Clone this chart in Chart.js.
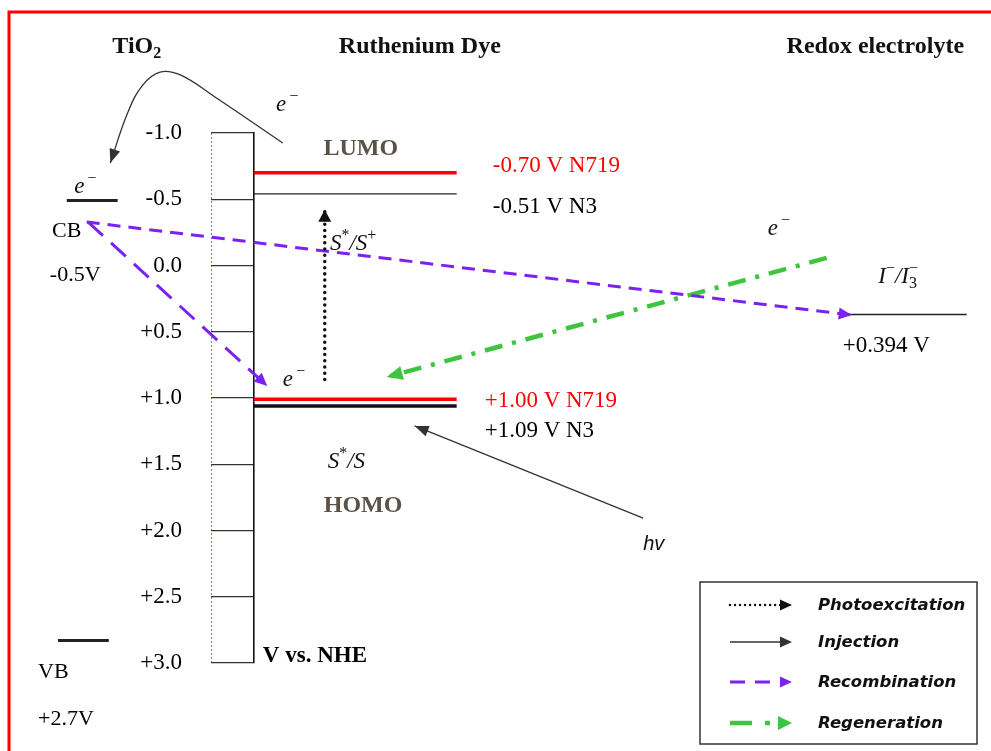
<!DOCTYPE html>
<html>
<head>
<meta charset="utf-8">
<script src="https://cdn.jsdelivr.net/npm/chart.js@4.4.1/dist/chart.umd.min.js"></script>
<style>
  body { margin: 0; background: #fff; }
</style>
</head>
<body>
<canvas id="levelChart" width="991" height="751"></canvas>
<script>
// energy levels in V vs. NHE
const dyeNames = ['N719', 'N3'];
const lumoLevels = [-0.70, -0.54];
const homoLevels = [1.01, 1.06];
const lumoText = ['-0.70 V', '-0.51 V'];
const homoText = ['+1.00 V', '+1.09 V'];
const tio2Levels = [-0.49, 2.83]; // CB, VB
const tio2Text = ['-0.5V', '+2.7V'];
const redoxLevel = 0.37;
const redoxText = '+0.394 V';
const yTicks = [-1.0, -0.5, 0.0, 0.5, 1.0, 1.5, 2.0, 2.5, 3.0];
const processNames = ['Photoexcitation', 'Injection', 'Recombination', 'Regeneration'];

// horizontal positions of the three columns (0 = energy axis, 100 = right edge)
const dyeCol = [0, 27.5];
const cbCol = [-25.4, -18.5];
const vbCol = [-26.6, -19.7];
const redoxCol = [80.9, 96.7];

// arrow paths [x, V]
const photoPath = [[9.6, 0.86], [9.6, -0.42]];
const injectPath = [[3.9, -0.925], [-5.3, -1.272], [-10.0, -1.438], [-12.75, -1.46], [-15.1, -1.362], [-17.1, -1.158], [-19.5, -0.774]];
const lightPath = [[52.8, 1.906], [21.8, 1.211]];
const recombPathA = [[-22.7, -0.328], [81.1, 0.374]];
const recombPathB = [[-22.5, -0.328], [1.8, 0.909]];
const regenPath = [[77.7, -0.057], [18.0, 0.842]];

const SERIF = '"Liberation Serif", "Times New Roman", serif';
const RED = '#ff0000';
const PURPLE = '#7b22f2';
const GREEN = '#3fc43f';

const arrowStyle = {
    Photoexcitation: { color: '#111', width: 3.5, dash: [0.01, 6.2], cap: 'round', head: [12, 13] },
    Injection: { color: '#333', width: 1.3, dash: [], cap: 'butt', head: [14, 11] },
    Recombination: { color: PURPLE, width: 3, dash: [13, 8], cap: 'butt', head: [13, 12] },
    Regeneration: { color: GREEN, width: 4.5, dash: [18, 10, 4, 10], cap: 'butt', head: [16, 14] },
};

function pts(path) {
    return path.map(p => ({ x: p[0], y: p[1] }));
}

function level(x, v, color, width) {
    return {
        data: [{ x: x[0], y: v }, { x: x[1], y: v }],
        showLine: true, borderColor: color, borderWidth: width,
        pointRadius: 0, clip: false, borderCapStyle: 'butt'
    };
}

function arrow(path, name, extra) {
    let s = arrowStyle[name];
    return Object.assign({
        data: pts(path), showLine: true, borderColor: s.color, borderWidth: s.width,
        borderDash: s.dash, borderCapStyle: s.cap, pointRadius: 0, clip: false,
        head: s.head, headColor: s.color
    }, extra || {});
}

const datasets = [
    level(dyeCol, lumoLevels[0], RED, 3.5),
    level(dyeCol, lumoLevels[1], '#222', 1.3),
    level(dyeCol, homoLevels[0], RED, 3.5),
    level(dyeCol, homoLevels[1], '#111', 3.5),
    level(cbCol, tio2Levels[0], '#222', 3),
    level(vbCol, tio2Levels[1], '#222', 3),
    level(redoxCol, redoxLevel, '#222', 1.5),
    arrow(photoPath, 'Photoexcitation'),
    arrow(injectPath, 'Injection', { tension: 0.4 }),
    arrow(lightPath, 'Injection'),
    arrow(recombPathA, 'Recombination'),
    arrow(recombPathB, 'Recombination', { borderDash: [20, 11] }),
    arrow(regenPath, 'Regeneration'),
];

// text pieces: [text, font, dy]
const F = {
    head: 'bold 24px ' + SERIF,
    headSub: 'bold 16px ' + SERIF,
    lbl: '23px ' + SERIF,
    side: '22px ' + SERIF,
    math: 'italic 23px ' + SERIF,
    sup: '16px ' + SERIF,
    sub: '16px ' + SERIF,
    hv: 'italic 20px "Liberation Sans", sans-serif',
    legend: 'bold italic 16.5px "DejaVu Sans", sans-serif',
};
const eMinus = [['e', F.math, 0], ['\u2009\u2212', F.sup, -10]];

const labels = [
    { parts: [['TiO', F.head, 0], ['2', F.headSub, 5]], x: -15.9, y: -1.604, align: 'center', color: '#111' },
    { parts: [['Ruthenium Dye', F.head, 0]], x: 22.5, y: -1.604, align: 'center', color: '#111' },
    { parts: [['Redox electrolyte', F.head, 0]], x: 84.3, y: -1.604, align: 'center', color: '#111' },
    { parts: [['LUMO', F.head, 0]], x: 14.5, y: -0.834, align: 'center', color: '#5a5245' },
    { parts: [['HOMO', F.head, 0]], x: 14.8, y: 1.86, align: 'center', color: '#5a5245' },
    { parts: [[lumoText[0] + ' ' + dyeNames[0], F.lbl, 0]], x: 32.4, y: -0.706, color: RED },
    { parts: [[lumoText[1] + ' ' + dyeNames[1], F.lbl, 0]], x: 32.4, y: -0.396, color: '#000' },
    { parts: [[homoText[0] + ' ' + dyeNames[0], F.lbl, 0]], x: 31.3, y: 1.068, color: RED },
    { parts: [[homoText[1] + ' ' + dyeNames[1], F.lbl, 0]], x: 31.3, y: 1.294, color: '#000' },
    { parts: [['CB', F.side, 0]], x: -27.4, y: -0.215, color: '#000' },
    { parts: [[tio2Text[0], F.side, 0]], x: -27.7, y: 0.12, color: '#000' },
    { parts: [['VB', F.side, 0]], x: -29.3, y: 3.113, color: '#000' },
    { parts: [[tio2Text[1], F.side, 0]], x: -29.3, y: 3.468, color: '#000' },
    { parts: [['V vs. NHE', 'bold 23px ' + SERIF, 0]], x: 1.2, y: 2.992, color: '#000' },
    { parts: eMinus, x: 3.0, y: -1.166, color: '#111' },
    { parts: eMinus, x: -24.4, y: -0.547, color: '#111' },
    { parts: eMinus, x: 3.9, y: 0.909, color: '#111' },
    { parts: eMinus, x: 69.7, y: -0.23, color: '#111' },
    { parts: [['S', F.math, 0], ['*', F.sup, -10], ['/S', F.math, 0], ['+', F.sup, -10]], x: 10.3, y: -0.117, color: '#111' },
    { parts: [['S', F.math, 0], ['*', F.sup, -10], ['/S', F.math, 0]], x: 10.0, y: 1.528, color: '#111' },
    { parts: [['hv', F.hv, 0]], x: 52.8, y: 2.147, color: '#111' },
    { parts: [['I', F.math, 0], ['\u2212', F.sup, -10], ['/I', F.math, 0], ['3', F.sub, 5, '\u2212']], x: 84.7, y: 0.132, color: '#111' },
    { parts: [[redoxText, F.lbl, 0]], x: 79.9, y: 0.653, color: '#000' },
];

function drawParts(ctx, parts, x, y, align, color) {
    let widths = parts.map(p => { ctx.font = p[1]; return ctx.measureText(p[0]).width; });
    let total = widths.reduce((a, b) => a + b, 0);
    let cx = align === 'center' ? x - total / 2 : x;
    ctx.fillStyle = color;
    ctx.textBaseline = 'alphabetic';
    ctx.textAlign = 'left';
    parts.forEach((p, i) => {
        ctx.font = p[1];
        ctx.fillText(p[0], cx, y + p[2]);
        if (p[3]) ctx.fillText(p[3], cx, y - 10);
        cx += widths[i];
    });
}

function head(ctx, x, y, ang, len, w, color) {
    ctx.save();
    ctx.translate(x, y);
    ctx.rotate(ang);
    ctx.beginPath();
    ctx.moveTo(0, 0);
    ctx.lineTo(-len, -w / 2);
    ctx.lineTo(-len, w / 2);
    ctx.closePath();
    ctx.fillStyle = color;
    ctx.fill();
    ctx.restore();
}

const diagramPlugin = {
    id: 'diagram',
    beforeDraw(chart) {
        const ctx = chart.ctx;
        ctx.save();
        ctx.fillStyle = '#fff';
        ctx.fillRect(0, 0, chart.width, chart.height);
        // red frame (top and left edge)
        ctx.strokeStyle = RED;
        ctx.lineWidth = 3;
        ctx.beginPath();
        ctx.moveTo(9, chart.height);
        ctx.lineTo(9, 12);
        ctx.lineTo(chart.width, 12);
        ctx.stroke();
        // dotted left side of the axis box
        const ys = chart.scales.y;
        const left = Math.round(ys.right - ys.options.grid.tickLength);
        ctx.strokeStyle = '#4a8ee0';
        ctx.lineWidth = 1;
        ctx.setLineDash([2, 2]);
        ctx.beginPath();
        ctx.moveTo(left + 0.5, ys.top);
        ctx.lineTo(left + 0.5, ys.bottom);
        ctx.stroke();
        ctx.restore();
    },
    afterDatasetsDraw(chart) {
        const ctx = chart.ctx;
        chart.data.datasets.forEach((ds, i) => {
            if (!ds.head) return;
            const els = chart.getDatasetMeta(i).data;
            const tip = els[els.length - 1];
            let fx = els[els.length - 2].x, fy = els[els.length - 2].y;
            if (ds.tension && tip.cp1x !== undefined) { fx = tip.cp1x; fy = tip.cp1y; }
            const ang = Math.atan2(tip.y - fy, tip.x - fx);
            head(ctx, tip.x, tip.y, ang, ds.head[0], ds.head[1], ds.headColor);
        });
        const xs = chart.scales.x, ys = chart.scales.y;
        ctx.save();
        labels.forEach(l => {
            drawParts(ctx, l.parts, xs.getPixelForValue(l.x), ys.getPixelForValue(l.y), l.align, l.color);
        });
        ctx.restore();
    },
    afterDraw(chart) {
        // process legend
        const ctx = chart.ctx;
        const bx = 700, by = 582, bw = 277, bh = 162;
        ctx.save();
        ctx.strokeStyle = '#333';
        ctx.lineWidth = 1.5;
        ctx.strokeRect(bx, by, bw, bh);
        const rows = [605, 642, 682, 723];
        processNames.forEach((name, i) => {
            const s = arrowStyle[name];
            const y = rows[i];
            const x0 = 730, tip = 792;
            ctx.strokeStyle = s.color;
            ctx.lineWidth = name === 'Photoexcitation' ? 2.5 : (name === 'Injection' ? 1.6 : s.width);
            ctx.lineCap = s.cap;
            ctx.beginPath();
            if (name === 'Photoexcitation') {
                ctx.setLineDash([0.01, 5]);
            } else if (name === 'Recombination') {
                ctx.setLineDash([15, 10]);
            } else if (name === 'Regeneration') {
                ctx.setLineDash([22, 13, 5, 40]);
            } else {
                ctx.setLineDash([]);
            }
            ctx.moveTo(x0, y);
            ctx.lineTo(tip - 10, y);
            ctx.stroke();
            ctx.setLineDash([]);
            head(ctx, tip, y, 0, name === 'Regeneration' ? 14 : 12, name === 'Regeneration' ? 14 : 11, s.color);
            ctx.fillStyle = '#111';
            ctx.font = F.legend;
            ctx.textBaseline = 'middle';
            ctx.fillText(name, 818, y + 1);
        });
        ctx.restore();
    }
};

new Chart(document.getElementById('levelChart'), {
    type: 'scatter',
    data: { datasets: datasets },
    options: {
        responsive: false,
        animation: false,
        events: [],
        layout: { padding: { left: 0, right: 0, top: 133, bottom: 88 } },
        plugins: { legend: { display: false }, tooltip: { enabled: false } },
        scales: {
            x: { type: 'linear', min: 0, max: 100, display: false },
            y: {
                type: 'linear',
                reverse: true,
                min: -1,
                max: 3,
                afterBuildTicks: s => { s.ticks = yTicks.map(v => ({ value: v })); },
                afterFit: s => { s.width = 254; },
                ticks: {
                    callback: v => (v > 0 ? '+' : '') + Number(v).toFixed(1),
                    font: { family: 'Liberation Serif', size: 23 },
                    color: '#000',
                    padding: 29
                },
                grid: { drawOnChartArea: false, tickLength: 43, color: '#333', lineWidth: 1.3 },
                border: { color: '#111', width: 1.6 }
            }
        }
    },
    plugins: [diagramPlugin]
});
</script>
</body>
</html>
